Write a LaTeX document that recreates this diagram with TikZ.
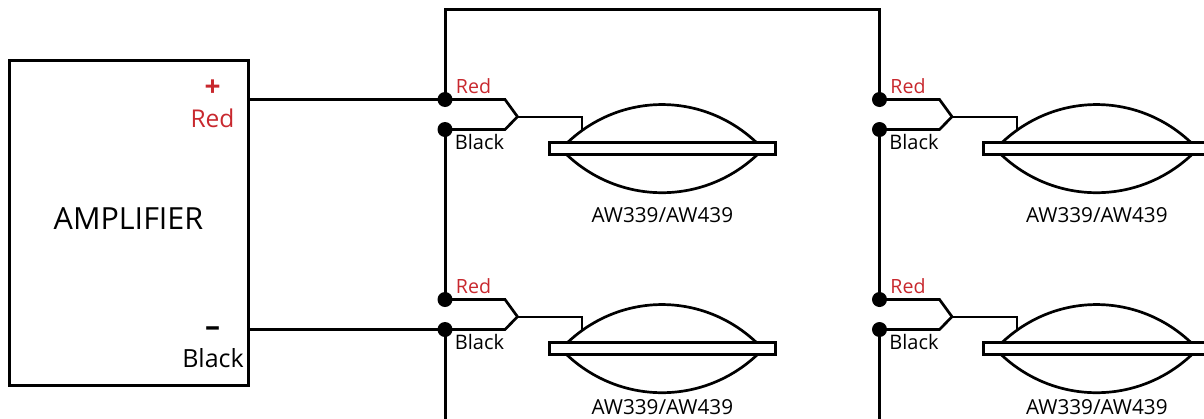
\documentclass[tikz,border=0pt]{standalone}
\usepackage{fontspec}
\setmainfont{Open Sans}
\definecolor{wirered}{HTML}{C8282E}
\tikzset{
  x=1pt,y=-1pt,
  wire/.style={line width=3pt,line join=miter},
  lead/.style={line width=2.7pt,line join=miter},
  dot/.style={circle,fill=black,inner sep=0pt,minimum size=15pt},
  ampbox/.style={draw,line width=3pt,minimum width=239pt,minimum height=325pt,inner sep=0pt},
  tinyred/.style={text=wirered,font=\fontsize{19.6}{20}\selectfont,inner sep=0pt},
  tinyblack/.style={text=black,font=\fontsize{20}{20}\selectfont,inner sep=0pt},
  ampred/.style={text=wirered,font=\fontsize{24.5}{26}\selectfont,inner sep=0pt},
  ampblack/.style={text=black,font=\fontsize{25}{26}\selectfont,inner sep=0pt},
  model/.style={font=\fontsize{20.7}{22}\selectfont,inner sep=0pt},
  bar/.style={draw,fill=white,line width=2.8pt,minimum width=226pt,minimum height=12pt,inner sep=0pt},
}
\begin{document}
\begin{tikzpicture}
\useasboundingbox (0,0) rectangle (1204,418);
\node[ampbox] (amp) at (128.5,222.5) {};
\node[font=\fontsize{30.5}{32}\selectfont,inner sep=0pt] (amptext) at (128.5,219) {AMPLIFIER};
\node[ampred,font=\fontsize{28}{28}\selectfont\bfseries] (plus) at (212.5,88.5) {+};
\node[ampred] (ampredl) at (212.5,118) {Red};
\node[ampblack,font=\fontsize{30}{30}\selectfont\bfseries] (minus) at (212.5,331.5) {–};
\node[ampblack] (ampblackl) at (213,358) {Black};
\coordinate (ampP) at (248,99.5);
\coordinate (ampM) at (248,329.5);
\foreach \n/\dx/\dy/\ml in {a/0/0/215,b/0/200/407,c/434.5/0/215,d/434.5/200/407}{
  \begin{scope}[shift={(\dx,\dy)}]
    \node[dot] (\n R) at (445,99.5) {};
    \node[dot] (\n B) at (445,129.5) {};
    \coordinate (\n RB) at (505,99.5);
    \coordinate (\n BB) at (505,129.5);
    \coordinate (\n T) at (517.5,116.7);
    \coordinate (\n C) at (582.3,116.7);
    \coordinate (\n S) at (582.3,130);
    \draw[lead] (\n R.center) -- (\n RB) -- (\n T) -- (\n BB) -- (\n B.center);
    \draw[line width=2pt] (\n T) -- (\n C) -- (\n S);
    \draw[lead] (566,144) .. controls (620,91.4) and (704,91.4) .. (758,144);
    \draw[lead] (566,154) .. controls (620,205.6) and (704,205.6) .. (758,154);
    \node[bar] (\n bar) at (662.3,148.5) {};
    \node[tinyred] (\n rl) at (473.5,86) {Red};
    \node[tinyblack] (\n bl) at (479.5,142) {Black};
  \end{scope}
  \node[model] (\n m) at (662.3+\dx,\ml) {AW339/AW439};
}
\coordinate (top1) at (445,9.5);
\coordinate (endb) at (445,420);
\draw[wire] (ampP) -- (aR.center);
\draw[wire] (ampM) -- (bB.center);
\draw[wire] (aR.center) -- (aR.center |- top1) -- (cR.center |- top1) -- (cR.center);
\draw[wire] (aB.center) -- (bR.center);
\draw[wire] (cB.center) -- (dR.center);
\draw[wire] (bB.center) -- (bB.center |- endb);
\draw[wire] (dB.center) -- (dB.center |- endb);
\end{tikzpicture}
\end{document}
